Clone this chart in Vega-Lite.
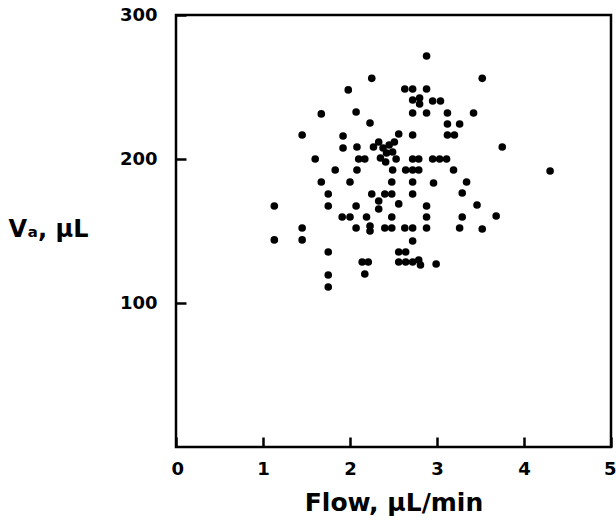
{
  "$schema": "https://vega.github.io/schema/vega-lite/v6.json",
  "autosize": {"type": "none"},
  "width": 435,
  "height": 432,
  "padding": {"left": 176, "top": 15, "right": 5, "bottom": 78},
  "background": "white",
  "config": {
    "view": {"stroke": "black", "strokeWidth": 2.5},
    "font": "DejaVu Sans"
  },
  "data": {
    "values": [
      {"flow": 2.88, "va": 271.5},
      {"flow": 2.25, "va": 256},
      {"flow": 3.52, "va": 256},
      {"flow": 1.98, "va": 248},
      {"flow": 2.63, "va": 248.6},
      {"flow": 2.72, "va": 248.6},
      {"flow": 2.88, "va": 248.6},
      {"flow": 2.72, "va": 241},
      {"flow": 2.80, "va": 242.4},
      {"flow": 2.80, "va": 238.2},
      {"flow": 2.95, "va": 240.3},
      {"flow": 3.04, "va": 240.3},
      {"flow": 1.67, "va": 231.3},
      {"flow": 2.07, "va": 232.6},
      {"flow": 2.72, "va": 231.9},
      {"flow": 2.88, "va": 231.9},
      {"flow": 3.12, "va": 231.9},
      {"flow": 3.42, "va": 231.9},
      {"flow": 2.23, "va": 225},
      {"flow": 3.12, "va": 224.3},
      {"flow": 3.26, "va": 224.3},
      {"flow": 1.45, "va": 216.7},
      {"flow": 1.92, "va": 216},
      {"flow": 2.56, "va": 217.4},
      {"flow": 2.72, "va": 216.7},
      {"flow": 3.12, "va": 216.7},
      {"flow": 3.20, "va": 216.7},
      {"flow": 1.92, "va": 207.6},
      {"flow": 2.08, "va": 208.3},
      {"flow": 3.75, "va": 208.3},
      {"flow": 2.27, "va": 208.3},
      {"flow": 2.33, "va": 211.8},
      {"flow": 2.38, "va": 207.6},
      {"flow": 2.45, "va": 209.7},
      {"flow": 2.51, "va": 211.8},
      {"flow": 2.42, "va": 204.2},
      {"flow": 2.49, "va": 204.9},
      {"flow": 2.35, "va": 200.7},
      {"flow": 2.41, "va": 197.9},
      {"flow": 2.53, "va": 200},
      {"flow": 1.60, "va": 200},
      {"flow": 2.10, "va": 200},
      {"flow": 2.17, "va": 200},
      {"flow": 2.72, "va": 200},
      {"flow": 2.79, "va": 200},
      {"flow": 2.95, "va": 200},
      {"flow": 3.03, "va": 200},
      {"flow": 3.11, "va": 200},
      {"flow": 1.83, "va": 192.4},
      {"flow": 2.08, "va": 192.4},
      {"flow": 2.49, "va": 192.4},
      {"flow": 2.64, "va": 192.4},
      {"flow": 2.72, "va": 192.4},
      {"flow": 2.79, "va": 192.4},
      {"flow": 3.19, "va": 192.4},
      {"flow": 4.30, "va": 191.7},
      {"flow": 1.67, "va": 184},
      {"flow": 2.00, "va": 184},
      {"flow": 2.48, "va": 184},
      {"flow": 2.72, "va": 184},
      {"flow": 2.96, "va": 183.3},
      {"flow": 3.34, "va": 184},
      {"flow": 1.75, "va": 175.7},
      {"flow": 2.25, "va": 175.7},
      {"flow": 2.40, "va": 175.7},
      {"flow": 2.48, "va": 175.7},
      {"flow": 2.72, "va": 175.7},
      {"flow": 3.29, "va": 176.4},
      {"flow": 1.13, "va": 167.4},
      {"flow": 1.75, "va": 167.4},
      {"flow": 2.07, "va": 167.4},
      {"flow": 2.33, "va": 170.8},
      {"flow": 2.33, "va": 165.3},
      {"flow": 2.56, "va": 168.8},
      {"flow": 2.88, "va": 167.4},
      {"flow": 3.46, "va": 168.1},
      {"flow": 1.91, "va": 159.7},
      {"flow": 2.00, "va": 159.7},
      {"flow": 2.19, "va": 159.7},
      {"flow": 2.48, "va": 159.7},
      {"flow": 2.88, "va": 159.7},
      {"flow": 3.29, "va": 159.7},
      {"flow": 3.68, "va": 160.4},
      {"flow": 1.45, "va": 152.1},
      {"flow": 2.07, "va": 152.1},
      {"flow": 2.23, "va": 153.5},
      {"flow": 2.23, "va": 150},
      {"flow": 2.40, "va": 152.1},
      {"flow": 2.48, "va": 152.1},
      {"flow": 2.63, "va": 152.1},
      {"flow": 2.72, "va": 152.1},
      {"flow": 2.88, "va": 152.1},
      {"flow": 3.26, "va": 152.1},
      {"flow": 3.52, "va": 151.4},
      {"flow": 1.13, "va": 143.8},
      {"flow": 1.45, "va": 143.8},
      {"flow": 2.72, "va": 143.1},
      {"flow": 1.75, "va": 135.4},
      {"flow": 2.56, "va": 135.4},
      {"flow": 2.64, "va": 135.4},
      {"flow": 2.14, "va": 128.5},
      {"flow": 2.21, "va": 128.5},
      {"flow": 2.56, "va": 128.5},
      {"flow": 2.64, "va": 128.5},
      {"flow": 2.72, "va": 128.5},
      {"flow": 2.79, "va": 129.9},
      {"flow": 2.81, "va": 126.4},
      {"flow": 2.99, "va": 127.1},
      {"flow": 1.75, "va": 119.4},
      {"flow": 2.17, "va": 120.1},
      {"flow": 1.75, "va": 111.1}
    ]
  },
  "mark": {"type": "circle", "color": "black", "opacity": 1, "size": 58},
  "encoding": {
    "x": {
      "field": "flow",
      "type": "quantitative",
      "scale": {"domain": [0, 5], "nice": false},
      "axis": {
        "values": [0, 1, 2, 3, 4, 5],
        "grid": false,
        "domain": false,
        "ticks": true,
        "zindex": 1,
        "offset": -10,
        "tickSize": 10,
        "tickWidth": 2.5,
        "tickColor": "black",
        "labelPadding": 13,
        "labelFont": "DejaVu Sans",
        "labelFontWeight": "bold",
        "labelFontSize": 18,
        "labelColor": "black",
        "labelFlush": true,
        "labelFlushOffset": 5,
        "title": "Flow, μL/min",
        "titleFont": "DejaVu Sans",
        "titleFontWeight": "bold",
        "titleFontSize": 25,
        "titleColor": "black",
        "titlePadding": 12
      }
    },
    "y": {
      "field": "va",
      "type": "quantitative",
      "scale": {"domain": [0, 300], "nice": false},
      "axis": {
        "values": [100, 200, 300],
        "grid": false,
        "domain": false,
        "ticks": true,
        "zindex": 1,
        "offset": -10,
        "tickSize": 10,
        "tickWidth": 2.5,
        "tickColor": "black",
        "labelPadding": 19,
        "labelFont": "DejaVu Sans",
        "labelFontWeight": "bold",
        "labelFontSize": 18,
        "labelColor": "black",
        "labelFlush": false,
        "title": "Vₐ, μL",
        "titleFont": "DejaVu Sans",
        "titleFontWeight": "bold",
        "titleFontSize": 24,
        "titleColor": "black",
        "titleAngle": 0,
        "titleAlign": "left",
        "titleBaseline": "middle",
        "titleX": -178,
        "titleY": 214
      }
    }
  }
}
